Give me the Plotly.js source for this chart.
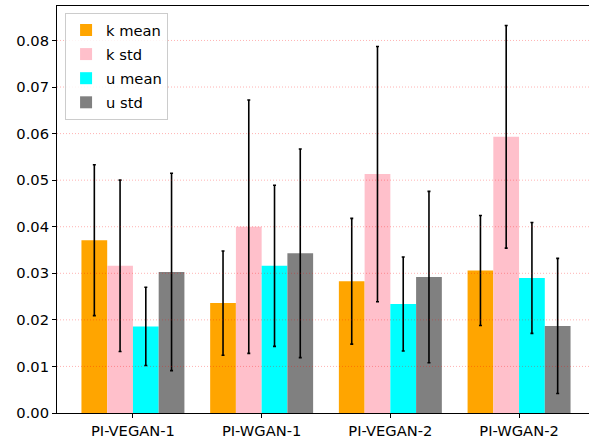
<!DOCTYPE html>
<html>
<head>
<meta charset="utf-8">
<script src="https://cdn.plot.ly/plotly-3.0.1.min.js"></script>
<style>
  html, body { margin: 0; padding: 0; overflow: hidden; background: #fff; }
  #chart { width: 600px; height: 438px; }
</style>
</head>
<body>
<div id="chart"></div>
<script>
// Model names on the x axis
const models = ['PI-VEGAN-1', 'PI-WGAN-1', 'PI-VEGAN-2', 'PI-WGAN-2'];

// Bar heights per metric
const kMean = [0.0371, 0.0236, 0.0283, 0.0306];
const kStd  = [0.0316, 0.0400, 0.0513, 0.0593];
const uMean = [0.0186, 0.0316, 0.0234, 0.0290];
const uStd  = [0.0303, 0.0343, 0.0292, 0.0187];

// Symmetric error bar half-lengths per metric
const kMeanErr = [0.0162, 0.0112, 0.0135, 0.0118];
const kStdErr  = [0.0184, 0.0272, 0.0274, 0.0239];
const uMeanErr = [0.0084, 0.0173, 0.0101, 0.0119];
const uStdErr  = [0.0212, 0.0224, 0.0184, 0.0145];

// Y tick values
const yTicks = [0.00, 0.01, 0.02, 0.03, 0.04, 0.05, 0.06, 0.07, 0.08];

const series = [
  { name: 'k mean', y: kMean, err: kMeanErr, color: '#FFA500' },
  { name: 'k std',  y: kStd,  err: kStdErr,  color: '#FFC0CB' },
  { name: 'u mean', y: uMean, err: uMeanErr, color: '#00FFFF' },
  { name: 'u std',  y: uStd,  err: uStdErr,  color: '#808080' }
];

const traces = series.map((s, i) => ({
  type: 'bar',
  name: s.name,
  x: models,
  y: s.y,
  legendgroup: 'g' + i,
  marker: { color: s.color, line: { width: 0 } },
  error_y: {
    type: 'data',
    array: s.err,
    visible: true,
    color: '#000000',
    thickness: 1.6,
    width: 1.5
  }
}));

// Dotted horizontal grid drawn over the bars
const gridShapes = yTicks.slice(1).map(v => ({
  type: 'line',
  xref: 'paper', x0: 0, x1: 1,
  yref: 'y', y0: v, y1: v,
  layer: 'above',
  line: { color: 'rgba(255,0,0,0.3)', width: 1, dash: '1px,2px' }
}));

const font = { family: 'DejaVu Sans, sans-serif', size: 14.7, color: '#000' };

const layout = {
  width: 600,
  height: 438,
  margin: { l: 57, r: 5, t: 6, b: 25 },
  paper_bgcolor: '#ffffff',
  plot_bgcolor: '#ffffff',
  font: font,
  barmode: 'group',
  bargap: 0.2,
  bargroupgap: 0,
  showlegend: true,
  legend: {
    x: 0.015, y: 0.983, xanchor: 'left', yanchor: 'top',
    bgcolor: 'rgba(255,255,255,0.85)',
    bordercolor: '#cccccc', borderwidth: 1,
    font: { family: 'DejaVu Sans, sans-serif', size: 14.7, color: '#000' },
    tracegroupgap: 2,
    itemwidth: 30
  },
  xaxis: {
    type: 'category',
    range: [-0.59, 3.59],
    showgrid: false,
    zeroline: false,
    showline: true, mirror: true,
    linecolor: '#000', linewidth: 1,
    ticks: 'outside', ticklen: 4, tickwidth: 1, tickcolor: '#000',
    tickfont: font
  },
  yaxis: {
    range: [0, 0.0874],
    tickvals: yTicks,
    tickformat: '.2f',
    showgrid: false,
    zeroline: false,
    showline: true, mirror: true,
    linecolor: '#000', linewidth: 1,
    ticks: 'outside', ticklen: 4, tickwidth: 1, tickcolor: '#000',
    tickfont: font
  },
  shapes: gridShapes
};

Plotly.newPlot('chart', traces, layout, { displayModeBar: false, staticPlot: true });
</script>
</body>
</html>
